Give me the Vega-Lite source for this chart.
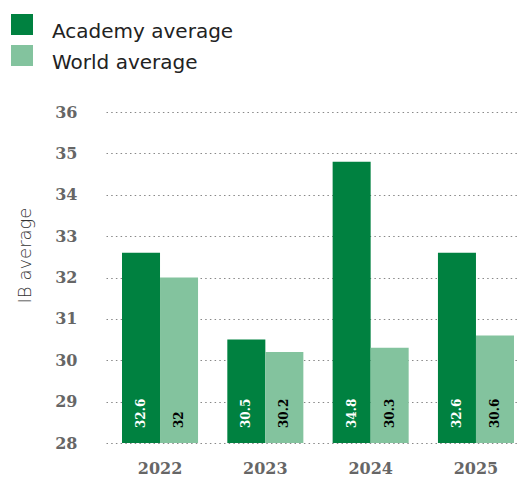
{
  "$schema": "https://vega.github.io/schema/vega-lite/v6.json",
  "autosize": {"type": "none"},
  "padding": {"left": 106, "top": 112, "right": 0, "bottom": 34},
  "width": 414,
  "height": 331,
  "background": "white",
  "config": {
    "view": {"stroke": null},
    "axisY": {
      "domain": false, "ticks": false, "labelOverlap": false,
      "grid": true, "gridColor": "#888888", "gridDash": [1.5, 3.2], "gridWidth": 1,
      "labelFont": "DejaVu Serif", "labelFontWeight": "bold", "labelFontSize": 16,
      "labelColor": "#666666", "labelPadding": 29,
      "titleFont": "DejaVu Sans", "titleFontWeight": 300, "titleFontSize": 18, "titleColor": "#333333",
      "titleAngle": -90, "titleAlign": "center", "titleBaseline": "middle",
      "titleX": -81, "titleY": 143
    }
  },
  "data": {
    "values": [
      {"year": "2022", "series": "Academy average", "value": 32.6},
      {"year": "2022", "series": "World average", "value": 32},
      {"year": "2023", "series": "Academy average", "value": 30.5},
      {"year": "2023", "series": "World average", "value": 30.2},
      {"year": "2024", "series": "Academy average", "value": 34.8},
      {"year": "2024", "series": "World average", "value": 30.3},
      {"year": "2025", "series": "Academy average", "value": 32.6},
      {"year": "2025", "series": "World average", "value": 30.6}
    ]
  },
  "encoding": {
    "x": {
      "field": "year", "type": "nominal",
      "scale": {"paddingInner": 0.278, "paddingOuter": 0.1045, "align": 0.727},
      "axis": {
        "title": null, "labelAngle": 0, "domain": false, "ticks": false,
        "labelFont": "DejaVu Serif", "labelFontWeight": "bold", "labelFontSize": 16,
        "labelColor": "#666666", "labelPadding": 17
      }
    },
    "xOffset": {"field": "series", "type": "nominal"}
  },
  "layer": [
    {
      "mark": {"type": "bar", "clip": true},
      "encoding": {
        "y": {
          "field": "value", "type": "quantitative",
          "scale": {"domain": [28, 36], "nice": false, "zero": false},
          "axis": {"title": "IB average", "values": [28, 29, 30, 31, 32, 33, 34, 35, 36]}
        },
        "color": {
          "field": "series", "type": "nominal",
          "scale": {"domain": ["Academy average", "World average"], "range": ["#008140", "#83c39e"]},
          "legend": {
            "title": null, "orient": "none", "legendX": -95, "legendY": -91,
            "symbolType": "M-1,-1.636H1V0.273H-1Z", "symbolSize": 484, "symbolStrokeWidth": 0, "symbolOpacity": 1,
            "labelFont": "DejaVu Sans", "labelFontWeight": 400, "labelFontSize": 20, "labelColor": "#222222",
            "labelOffset": 19, "rowPadding": 3, "labelLimit": 400
          }
        }
      }
    },
    {
      "mark": {"type": "text", "angle": -90, "align": "left", "baseline": "middle", "dx": 15,
               "font": "DejaVu Serif", "fontWeight": "bold", "fontSize": 12},
      "encoding": {
        "y": {
          "datum": 28, "type": "quantitative",
          "axis": {"title": "IB average", "values": [28, 29, 30, 31, 32, 33, 34, 35, 36]}
        },
        "text": {"field": "value", "type": "quantitative"},
        "color": {
          "condition": {"test": "datum.series === 'Academy average'", "value": "#ffffff"},
          "value": "#000000"
        }
      }
    }
  ]
}
